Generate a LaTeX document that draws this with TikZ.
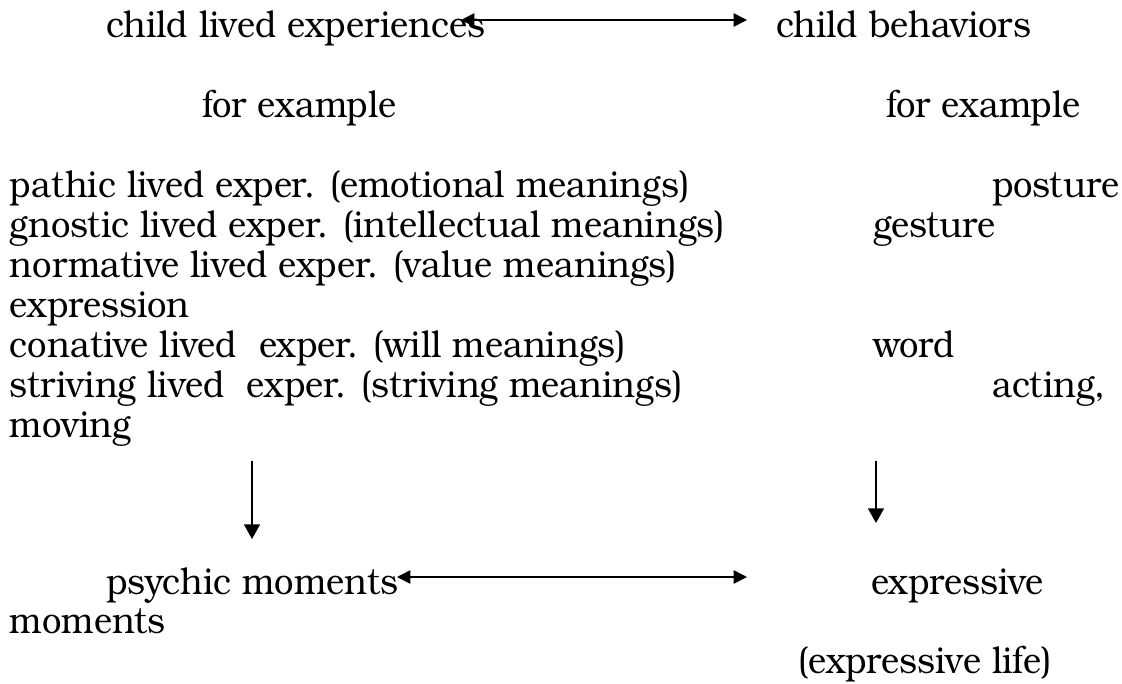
\documentclass[tikz,border=0pt]{standalone}
\usepackage{graphicx}
\usepackage{fontspec}
\IfFontExistsTF{texgyrebonum-regular.otf}{\setmainfont{texgyrebonum-regular.otf}}{\setmainfont{DejaVu Serif}}
\usetikzlibrary{arrows.meta}
\newlength\reflen
\AtBeginDocument{%
  \settowidth\reflen{\fontsize{10pt}{12pt}\selectfont gnostic lived exper. (intellectual meanings)}%
  \pgfmathsetmacro\myfs{10*536.25/\reflen}%
  \global\let\myfs\myfs}
\newcommand\bodyfont{\fontsize{\myfs pt}{\myfs pt}\selectfont}
\newcommand\tall[1]{\scalebox{1}[1.08]{#1}}
\begin{document}
\begin{tikzpicture}[x=0.75pt,y=-0.75pt,
  txt/.style={anchor=base west, inner sep=0pt, outer sep=0pt, font=\bodyfont},
  arr/.style={line width=1.2pt, -{Triangle[length=11pt,width=12pt]}},
  dbl/.style={line width=1.2pt, {Triangle[length=10pt,width=10pt]}-{Triangle[length=10pt,width=10pt]}}]
\useasboundingbox (0,0) rectangle (1122,683);
% top row
\node[txt] (cle) at (106,37) {\tall{child lived experiences}};
\node[txt] (cb) at (776,37) {\tall{child behaviors}};
\node[txt] (fe1) at (202,117) {\tall{for example}};
\node[txt] (fe2) at (886,117) {\tall{for example}};
% left block
\node[txt] (l1) at (10,197) {\tall{pathic lived exper. (emotional meanings)}};
\node[txt] (l2) at (10,237) {\tall{gnostic lived exper. (intellectual meanings)}};
\node[txt] (l3) at (10,277) {\tall{normative lived exper. (value meanings)}};
\node[txt] (l4) at (10,317) {\tall{expression}};
\node[txt] (l5) at (10,357) {\tall{conative lived\ \ exper. (will meanings)}};
\node[txt] (l6) at (10,397) {\tall{striving lived\ \ exper. (striving meanings)}};
\node[txt] (l7) at (10,437) {\tall{moving}};
% right block
\node[txt] (r1) at (992,197) {\tall{posture}};
\node[txt] (r2) at (873,237) {\tall{gesture}};
\node[txt] (r3) at (873,357) {\tall{word}};
\node[txt] (r4) at (992,397) {\tall{acting,}};
% bottom
\node[txt] (pm) at (106,594) {\tall{psychic moments}};
\node[txt] (em) at (871,594) {\tall{expressive}};
\node[txt] (mo) at (10,633) {\tall{moments}};
\node[txt] (el) at (798,673) {\tall{(expressive life)}};
% arrow end points
\coordinate (ta) at (461,20);
\coordinate (tb) at (747,20);
\coordinate (ba) at (397,577);
\coordinate (bb) at (747,577);
\coordinate (la) at (252,461);
\coordinate (lb) at (252,539);
\coordinate (ra) at (876,461);
\coordinate (rb) at (876,523);
\draw[dbl] (ta) -- (tb);
\draw[dbl] (ba) -- (bb);
\draw[arr] (la) -- (lb);
\draw[arr] (ra) -- (rb);
\end{tikzpicture}
\end{document}
